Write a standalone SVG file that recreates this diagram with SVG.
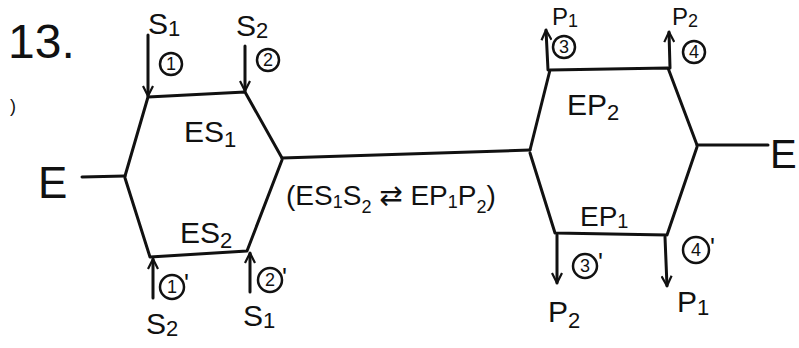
<svg xmlns="http://www.w3.org/2000/svg" width="799" height="348" viewBox="0 0 799 348">
<defs>
<style>
.ln{stroke:#111;stroke-width:3;fill:none;stroke-linecap:round;stroke-linejoin:round}
.t{font-family:"Liberation Sans","DejaVu Sans",sans-serif;fill:#111}
.c{stroke:#111;stroke-width:2.5;fill:none}
.n{font-family:"Liberation Sans","DejaVu Sans",sans-serif;fill:#111;font-size:18px;text-anchor:middle}
.p{font-family:"Liberation Sans","DejaVu Sans",sans-serif;fill:#111;font-size:26px}
</style>
<marker id="ah" viewBox="0 0 12 12" refX="11" refY="6" markerWidth="12" markerHeight="12" markerUnits="userSpaceOnUse" orient="auto">
<path d="M1,1 L11,6 L1,11" fill="none" stroke="#111" stroke-width="2.2"/>
</marker>
</defs>
<rect width="799" height="348" fill="#fff"/>
<text class="t" x="8" y="58" font-size="48">13.</text>
<text class="t" x="10" y="112" font-size="18">)</text>
<g id="connectors">
<path class="ln" d="M82,177 L125,176"/>
<path class="ln" d="M125,176 L148,97 L245,92 L282,158"/>
<path class="ln" d="M125,178 L150,257 L247,251 L282,160"/>
<path class="ln" d="M282,158 L530,150"/>
<path class="ln" d="M530,150 L550,70 L668,68 L697,145"/>
<path class="ln" d="M530,153 L555,233 L667,235 L697,147"/>
<path class="ln" d="M697,145 L768,145"/>
<path class="ln" d="M148,35 L148,96" marker-end="url(#ah)"/>
<path class="ln" d="M245,46 L245,91" marker-end="url(#ah)"/>
<path class="ln" d="M153,298 L153,259" marker-end="url(#ah)"/>
<path class="ln" d="M250,292 L250,253" marker-end="url(#ah)"/>
<path class="ln" d="M548,70 L546,30" marker-end="url(#ah)"/>
<path class="ln" d="M670,68 L669,32" marker-end="url(#ah)"/>
<path class="ln" d="M557,235 L557,283" marker-end="url(#ah)"/>
<path class="ln" d="M665,237 L667,286" marker-end="url(#ah)"/>
</g>
<g id="E_left"><text class="t" x="38" y="198" font-size="44">E</text></g>
<g id="E_right"><text class="t" x="770" y="168" font-size="40">E</text></g>
<g id="ES1"><text class="t" x="184" y="142" font-size="30">ES<tspan font-size="22" dy="5">1</tspan></text></g>
<g id="ES2"><text class="t" x="180" y="243" font-size="30">ES<tspan font-size="22" dy="5">2</tspan></text></g>
<g id="EP2"><text class="t" x="567" y="115" font-size="30">EP<tspan font-size="22" dy="5">2</tspan></text></g>
<g id="EP1"><text class="t" x="580" y="226" font-size="28">EP<tspan font-size="20" dy="2">1</tspan></text></g>
<g id="complex"><text class="t" x="286" y="205" font-size="28">(ES<tspan font-size="18" dy="3">1</tspan><tspan dy="-3">S</tspan><tspan font-size="18" dy="8">2</tspan><tspan dy="-8"> ⇄ EP</tspan><tspan font-size="18" dy="3">1</tspan><tspan dy="-3">P</tspan><tspan font-size="18" dy="8">2</tspan><tspan dy="-8">)</tspan></text></g>
<g id="S1_top"><text class="t" x="148" y="34" font-size="30">S<tspan font-size="22" dy="2">1</tspan></text></g>
<g id="S2_top"><text class="t" x="236" y="36" font-size="30">S<tspan font-size="22" dy="2">2</tspan></text></g>
<g id="S2_bot"><text class="t" x="146" y="334" font-size="30">S<tspan font-size="22" dy="2">2</tspan></text></g>
<g id="S1_bot"><text class="t" x="243" y="326" font-size="30">S<tspan font-size="22" dy="2">1</tspan></text></g>
<g id="P1_top"><text class="t" x="552" y="25" font-size="24">P<tspan font-size="18" dy="2">1</tspan></text></g>
<g id="P2_top"><text class="t" x="672" y="25" font-size="24">P<tspan font-size="18" dy="2">2</tspan></text></g>
<g id="P2_bot"><text class="t" x="548" y="322" font-size="30">P<tspan font-size="22" dy="6">2</tspan></text></g>
<g id="P1_bot"><text class="t" x="677" y="312" font-size="30">P<tspan font-size="22" dy="3">1</tspan></text></g>
<g id="steps">
<circle class="c" cx="171" cy="64" r="11"/><text class="n" x="171" y="70">1</text>
<circle class="c" cx="268" cy="60" r="11"/><text class="n" x="268" y="66">2</text>
<circle class="c" cx="172" cy="287" r="12"/><text class="n" x="172" y="293">1</text><text class="p" x="184" y="292">'</text>
<circle class="c" cx="270" cy="280" r="12"/><text class="n" x="270" y="286">2</text><text class="p" x="282" y="286">'</text>
<circle class="c" cx="564" cy="47" r="11"/><text class="n" x="564" y="53">3</text>
<circle class="c" cx="694" cy="52" r="11"/><text class="n" x="694" y="58">4</text>
<circle class="c" cx="585" cy="266" r="12"/><text class="n" x="585" y="272">3</text><text class="p" x="598" y="271">'</text>
<circle class="c" cx="696" cy="250" r="13"/><text class="n" x="696" y="256">4</text><text class="p" x="710" y="256">'</text>
</g>
</svg>
